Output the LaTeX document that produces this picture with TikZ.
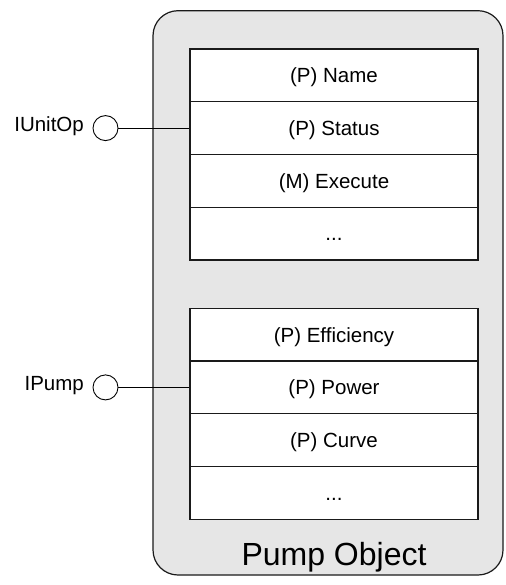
\documentclass[tikz,border=0pt]{standalone}
\usepackage{fontspec}
\setmainfont{Liberation Sans}
\definecolor{objgrey}{HTML}{E6E6E6}
\definecolor{edge}{HTML}{1A1A1A}
\begin{document}
\begin{tikzpicture}[x=1pt,y=-1pt,
  lbl/.style={font=\fontsize{20.5}{24}\selectfont, inner sep=0pt},
  container/.style={draw=edge, fill=objgrey, line width=1.2pt, rounded corners=25pt},
  cell/.style={draw=edge, fill=white, line width=1.1pt, minimum width=288pt, minimum height=52.75pt, inner sep=0pt, font=\fontsize{20.5}{24}\selectfont, text height=14.7pt, text depth=0pt},
  port/.style={circle, draw=black, fill=white, line width=0.9pt, minimum size=25pt, inner sep=0pt},
  conn/.style={draw=black, line width=1pt}]
\useasboundingbox (0,0) rectangle (505,585);
\coordinate (objNW) at (153,10.7);
\coordinate (objSE) at (503,575);
\path[container] (objNW) rectangle (objSE);
\node[font=\fontsize{32}{38}\selectfont, anchor=base, inner sep=0pt] (title) at (334,565) {Pump Object};
% upper interface table
\node[cell] (u1) at (334,75.4) {(P) Name};
\node[cell] (u2) at (334,128.1) {(P) Status};
\node[cell] (u3) at (334,180.9) {(M) Execute};
\node[cell] (u4) at (334,233.6) {...};
% lower interface table
\node[cell] (d1) at (334,334.7) {(P) Efficiency};
\node[cell] (d2) at (334,387.4) {(P) Power};
\node[cell] (d3) at (334,440.1) {(P) Curve};
\node[cell] (d4) at (334,492.9) {...};
% ports
\node[port] (p1) at (105.5,128.1) {};
\node[lbl, anchor=base east] (l1) at (84,131.3) {IUnitOp};
\node[port] (p2) at (105.5,387.4) {};
\node[lbl, anchor=base east] (l2) at (84,390.6) {IPump};
\draw[conn] (p1.east) -- (u2.west);
\draw[conn] (p2.east) -- (d2.west);
\end{tikzpicture}
\end{document}
